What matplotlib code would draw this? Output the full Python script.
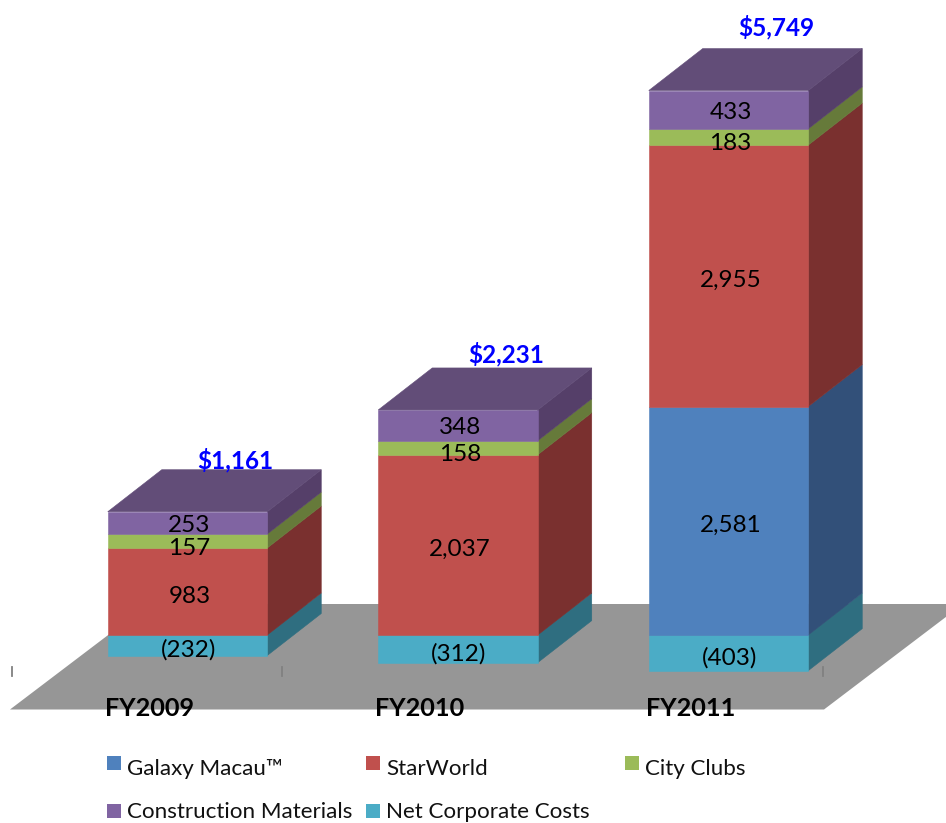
import matplotlib
matplotlib.use("Agg")
import matplotlib.pyplot as plt
from matplotlib.patches import Polygon, Rectangle

plt.rcParams['font.family'] = ['Lato', 'DejaVu Sans']

categories = ['FY2009', 'FY2010', 'FY2011']
galaxy = [0, 0, 2581]
starworld = [983, 2037, 2955]
city_clubs = [157, 158, 183]
construction = [253, 348, 433]
net_corporate = [-232, -312, -403]
totals = ['$1,161', '$2,231', '$5,749']
series_names = ['Galaxy Macau™', 'StarWorld', 'City Clubs', 'Construction Materials', 'Net Corporate Costs']

W, H = 946, 823
PX_PER_CAT = 270.5
PX_PER_VAL = 0.0885
X0_PX, Y0_PX = 187.5, 635

fig = plt.figure(figsize=(W / 100, H / 100), dpi=100)
ax = fig.add_axes([0, 0, 1, 1])
ax.set_xlim(-X0_PX / PX_PER_CAT, (W - X0_PX) / PX_PER_CAT)
ax.set_ylim((Y0_PX - H) / PX_PER_VAL, Y0_PX / PX_PER_VAL)
ax.axis('off')

bar_w = 159.5 / PX_PER_CAT
dx = 54 / PX_PER_CAT
dy = 42 / PX_PER_VAL


def pxw(p):
    return p / PX_PER_CAT


def pxh(p):
    return p / PX_PER_VAL


# floor
fl_bottom = -pxh(74.5)
fl_top = pxh(31)
fl_left_b = -pxw(177.5)
fl_left_t = -pxw(38.5)
fl_right_b = pxw(636.5)
fl_right_t = pxw(775.5)
ax.add_patch(Polygon([(fl_left_b, fl_bottom), (fl_right_b, fl_bottom), (fl_right_t, fl_top), (fl_left_t, fl_top)],
                     closed=True, fc='#969696', ec='none', zorder=1))
for px in (-175.5, 94.5, 635.5):
    ax.plot([pxw(px)] * 2, [-pxh(32), -pxh(41)], color='#808080', lw=1.3, zorder=1.5)

colors = {
    'galaxy': ('#4F81BD', '#325079'),
    'star': ('#C0504D', '#7A302F'),
    'city': ('#9BBB59', '#667A3A'),
    'cons': ('#8064A2', '#553F69'),
    'net': ('#4BACC6', '#2F6E80'),
}
top_color = '#624D78'
label_size = 17.5


def draw_segment(x, y0, y1, col, z):
    front, side = col
    l, r = x - bar_w / 2, x + bar_w / 2
    ax.add_patch(Polygon([(r, y0), (r + dx, y0 + dy), (r + dx, y1 + dy), (r, y1)], closed=True, fc=side, ec=side, lw=0.4, zorder=z))
    ax.add_patch(Rectangle((l, y0), bar_w, y1 - y0, fc=front, ec=front, lw=0.4, zorder=z + 0.1))


gaps = [52, 56, 63]
for i, cat in enumerate(categories):
    x = float(i)
    l, r = x - bar_w / 2, x + bar_w / 2
    draw_segment(x, net_corporate[i], 0, colors['net'], 2)
    base = 0
    stack = [(galaxy[i], 'galaxy', 4.5), (starworld[i], 'star', 4.5), (city_clubs[i], 'city', 7), (construction[i], 'cons', 2.5)]
    for val, key, nudge in stack:
        if val:
            draw_segment(x, base, base + val, colors[key], 3)
            ax.text(x + pxw(2), base + val / 2 - pxh(nudge), f'{val:,}', ha='center', va='center',
                    fontsize=label_size, color='black', zorder=5)
        base += val
    ax.add_patch(Polygon([(l, base), (r, base), (r + dx, base + dy), (l + dx, base + dy)], closed=True,
                         fc=top_color, ec=top_color, lw=0.4, zorder=4))
    ax.text(x + pxw(1), net_corporate[i] / 2 - pxh(5), f'({abs(net_corporate[i])})', ha='center', va='center',
            fontsize=label_size, color='black', zorder=5)
    ax.text(x + pxw(48), base + pxh(gaps[i]), totals[i], ha='center', va='center', fontsize=17.5, fontweight='bold',
            color='#0000FF', zorder=5)
    ax.text(l - pxw(3), -pxh(73), cat, ha='left', va='center', fontsize=18.2, fontweight='bold', color='black', zorder=5)

# legend
leg_colors = [colors['galaxy'][0], colors['star'][0], colors['city'][0], colors['cons'][0], colors['net'][0]]
leg_pos = [(107, 763, 769), (366, 763, 769), (625, 763, 769), (107, 811, 812), (366, 811, 812)]
for name, c, (px, py, ty) in zip(series_names, leg_colors, leg_pos):
    fig.add_artist(Rectangle((px / W, 1 - (py + 7) / H), 14 / W, 14 / H, transform=fig.transFigure, fc=c, ec='none'))
    fig.text((px + 20) / W, 1 - ty / H, name, ha='left', va='center', fontsize=16.1, color='#111111')

fig.savefig('out.png', dpi=100)
